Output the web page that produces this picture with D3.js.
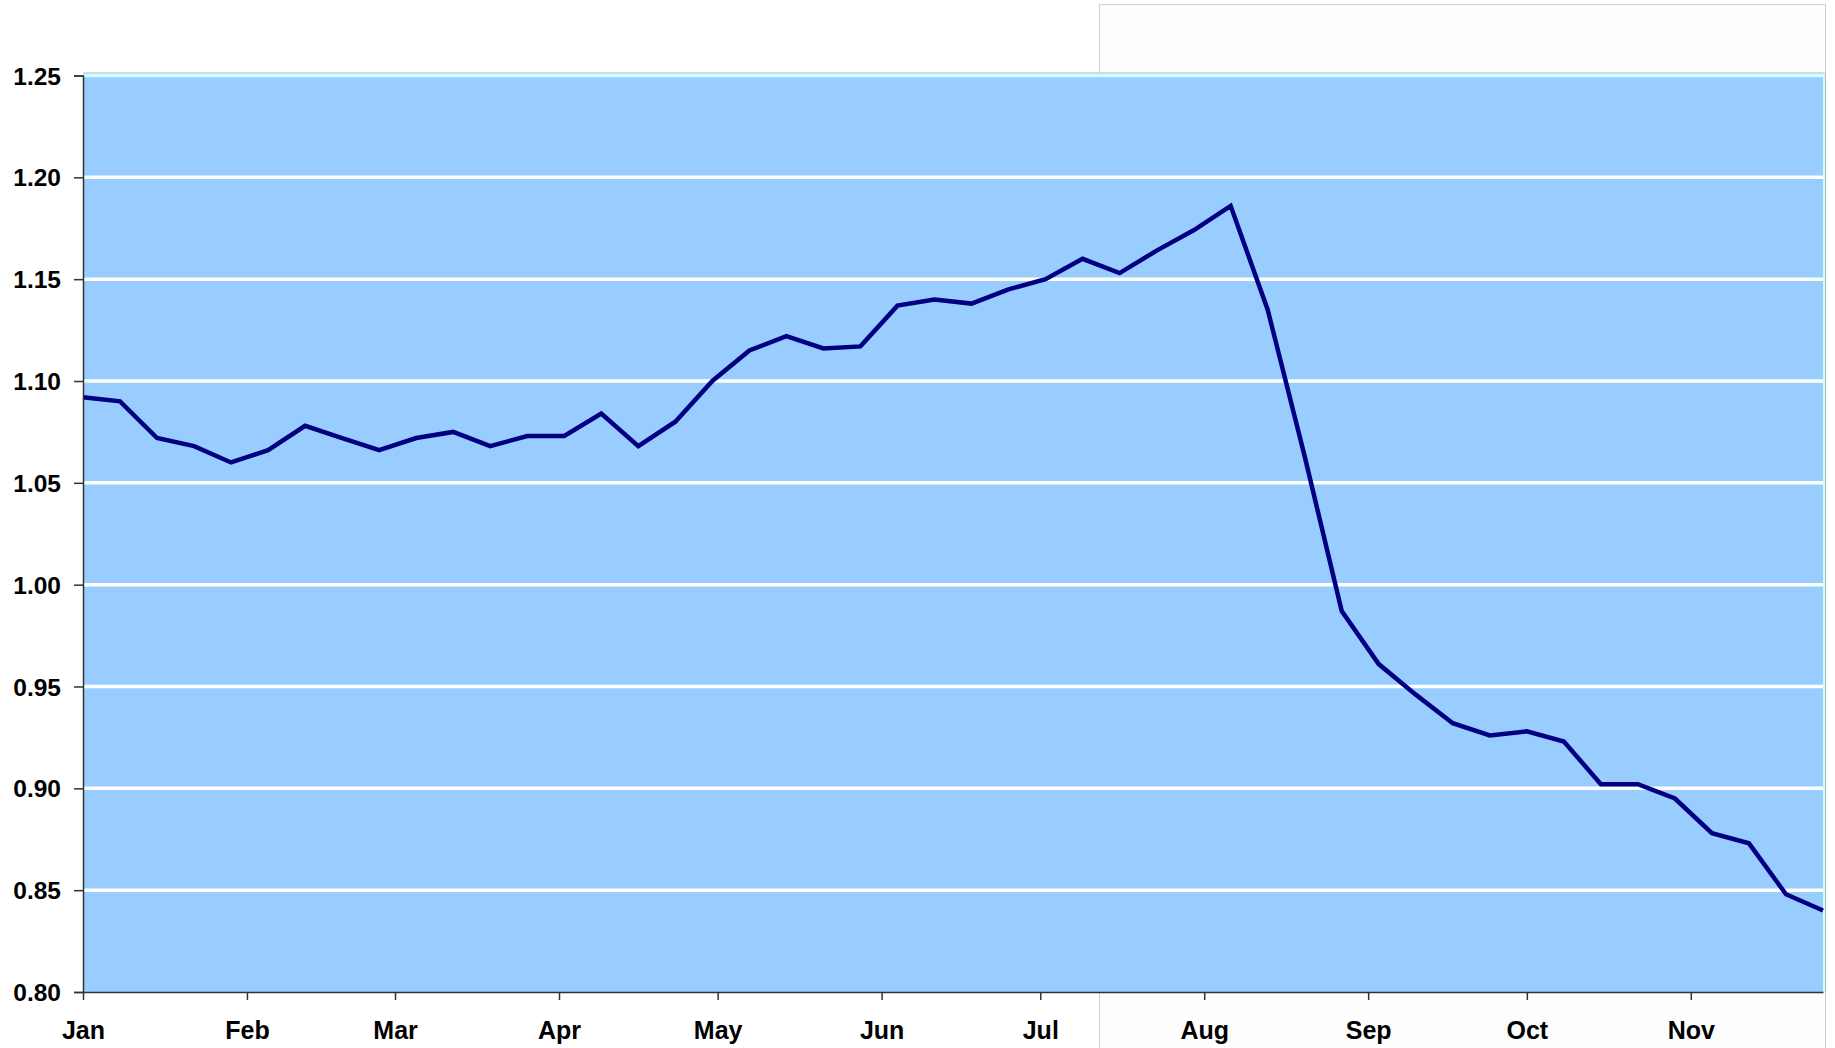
<!DOCTYPE html>
<html><head><meta charset="utf-8">
<script src="https://cdn.jsdelivr.net/npm/d3@7"></script>
<style>
html,body{margin:0;padding:0;background:#fff;}
svg{display:block;}
text{font-family:"Liberation Sans",Arial,sans-serif;font-weight:bold;fill:#000;}
</style></head>
<body>
<svg id="chart" width="1835" height="1048"></svg>
<script>
const dates = ["2009-01-01","2009-01-08","2009-01-15","2009-01-22","2009-01-29",
  "2009-02-05","2009-02-12","2009-02-19","2009-02-26",
  "2009-03-05","2009-03-12","2009-03-19","2009-03-26",
  "2009-04-02","2009-04-09","2009-04-16","2009-04-23","2009-04-30",
  "2009-05-07","2009-05-14","2009-05-21","2009-05-28",
  "2009-06-04","2009-06-11","2009-06-18","2009-06-25",
  "2009-07-02","2009-07-09","2009-07-16","2009-07-23","2009-07-30",
  "2009-08-06","2009-08-13","2009-08-20","2009-08-27",
  "2009-09-03","2009-09-10","2009-09-17","2009-09-24",
  "2009-10-01","2009-10-08","2009-10-15","2009-10-22","2009-10-29",
  "2009-11-05","2009-11-12","2009-11-19","2009-11-26"];
const values = [1.092,1.090,1.072,1.068,1.060,1.066,1.078,1.072,1.066,1.072,1.075,1.068,1.073,1.073,1.084,1.068,1.080,
  1.100,1.115,1.122,1.116,1.117,1.137,1.140,1.138,1.145,1.150,1.160,1.153,1.164,1.174,1.186,1.135,1.063,
  0.987,0.961,0.946,0.932,0.926,0.928,0.923,0.902,0.902,0.895,0.878,0.873,0.848,0.840];
const yTicks = [0.80,0.85,0.90,0.95,1.00,1.05,1.10,1.15,1.20,1.25];
const monthTicks = ["2009-01-01","2009-02-01","2009-03-01","2009-04-01","2009-05-01","2009-06-01",
  "2009-07-01","2009-08-01","2009-09-01","2009-10-01","2009-11-01"];
const monthLabels = ["Jan","Feb","Mar","Apr","May","Jun","Jul","Aug","Sep","Oct","Nov"];

const parse = d3.utcParse("%Y-%m-%d");
const data = dates.map((d,i)=>({date:parse(d), value:values[i]}));

const L=83, R=1823, T=75.5, B=992;
const svg = d3.select("#chart");

// faint background box
svg.append("rect").attr("x",1099.5).attr("y",4.5).attr("width",726).attr("height",1060)
  .attr("fill","#fdfdfd").attr("stroke","#d0d0d0").attr("stroke-width",1);

const x = d3.scaleUtc().domain([parse(dates[0]), parse(dates[dates.length-1])]).range([L,R]);
const y = d3.scaleLinear().domain([0.80,1.25]).range([B,T]);

// plot area
svg.append("rect").attr("x",L).attr("y",T-2).attr("width",R-L+2).attr("height",B-T+2)
  .attr("fill","#99ccff");
svg.append("line").attr("x1",L).attr("x2",R+3).attr("y1",T-2.5).attr("y2",T-2.5)
  .attr("stroke","#b8b8b8").attr("stroke-width",1);
svg.append("line").attr("x1",R+2.5).attr("x2",R+2.5).attr("y1",T-2.5).attr("y2",B)
  .attr("stroke","#b8b8b8").attr("stroke-width",1);
svg.append("line").attr("x1",R+1).attr("x2",R+1).attr("y1",T-2).attr("y2",B)
  .attr("stroke","#ccffff").attr("stroke-width",2);

// gridlines
svg.append("g").selectAll("line").data(yTicks.filter(v=>v>0.8)).join("line")
  .attr("x1",L).attr("x2",R).attr("y1",d=>y(d)).attr("y2",d=>y(d))
  .attr("stroke",d=>d>=1.25?"#ccffff":"#ffffff").attr("stroke-width",3.5);

// line
const line = d3.line().x(d=>x(d.date)).y(d=>y(d.value));
svg.append("path").datum(data).attr("d",line).attr("fill","none")
  .attr("stroke","#000080").attr("stroke-width",4.5).attr("stroke-linejoin","miter");

// y axis
const yAxis = d3.axisLeft(y).tickValues(yTicks).tickFormat(d3.format(".2f")).tickSize(9).tickPadding(13);
const gy = svg.append("g").attr("transform",`translate(${L},0)`).call(yAxis);
gy.select(".domain").attr("stroke","#333").attr("stroke-width",1.5);
gy.selectAll(".tick line").attr("stroke","#333").attr("stroke-width",1.5);
gy.selectAll("text").style("font-size","24.5px").style("font-family","'Liberation Sans',Arial,sans-serif")
  .style("font-weight","bold").attr("fill","#000").attr("dy","0.35em");

// x axis
const xAxis = d3.axisBottom(x).tickValues(monthTicks.map(parse))
  .tickFormat((d,i)=>monthLabels[i]).tickSize(8).tickSizeOuter(0).tickPadding(20);
const gx = svg.append("g").attr("transform",`translate(0,${B})`).call(xAxis);
gx.select(".domain").attr("stroke","#333").attr("stroke-width",1.5);
gx.selectAll(".tick line").attr("stroke","#333").attr("stroke-width",1.5);
gx.selectAll("text").style("font-size","25px").style("font-family","'Liberation Sans',Arial,sans-serif")
  .style("font-weight","bold").attr("fill","#000").attr("dy","0").attr("y",47);
</script>
</body></html>
